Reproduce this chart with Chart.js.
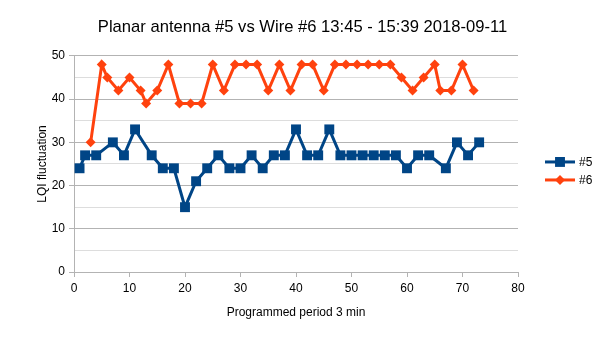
<!DOCTYPE html>
<html>
<head>
<meta charset="utf-8">
<style>
  html, body { margin: 0; padding: 0; background: #ffffff; }
  canvas { display: block; }
</style>
<script src="https://cdn.jsdelivr.net/npm/chart.js@4/dist/chart.umd.min.js"></script>
</head>
<body>
<canvas id="chart" width="605" height="340"></canvas>
<script>
// Chart texts
const chartTitle = 'Planar antenna #5 vs Wire #6 13:45 - 15:39 2018-09-11';
const xAxisTitle = 'Programmed period 3 min';
const yAxisTitle = 'LQI fluctuation';
const seriesNames = ['#5', '#6'];

// Axis ranges
const xRange = [0, 80];
const yRange = [0, 50];

// Planar antenna #5 readings (period index, LQI fluctuation)
const period5 = [1, 2, 4, 7, 9, 11, 14, 16, 18, 20, 22, 24, 26, 28, 30, 32, 34, 36, 38,
                 40, 42, 44, 46, 48, 50, 52, 54, 56, 58, 60, 62, 64, 67, 69, 71, 73];
const lqi5    = [24, 27, 27, 30, 27, 33, 27, 24, 24, 15, 21, 24, 27, 24, 24, 27, 24, 27, 27,
                 33, 27, 27, 33, 27, 27, 27, 27, 27, 27, 24, 27, 27, 24, 30, 27, 30];

// Wire #6 readings (period index, LQI fluctuation)
const period6 = [3, 5, 6, 8, 10, 12, 13, 15, 17, 19, 21, 23, 25, 27, 29, 31, 33, 35, 37,
                 39, 41, 43, 45, 47, 49, 51, 53, 55, 57, 59, 61, 63, 65, 66, 68, 70, 72];
const lqi6    = [30, 48, 45, 42, 45, 42, 39, 42, 48, 39, 39, 39, 48, 42, 48, 48, 48, 42, 48,
                 42, 48, 48, 42, 48, 48, 48, 48, 48, 48, 45, 42, 45, 48, 42, 42, 48, 42];

const BLUE = '#004586';
const ORANGE = '#ff420e';
const GRID_MAJOR = '#b3b3b3';
const GRID_MINOR = '#dddddd';
const FONT = "'Liberation Sans', Arial, sans-serif";

const toPoints = (xs, ys) => xs.map((x, i) => ({ x: x, y: ys[i] }));

// Draw a series marker (square or diamond) at a point
function drawMarker(ctx, style, x, y, r, color) {
  ctx.save();
  ctx.fillStyle = color;
  ctx.beginPath();
  if (style === 'rect') {
    const h = r * Math.SQRT1_2;
    ctx.rect(x - h, y - h, 2 * h, 2 * h);
  } else {
    ctx.moveTo(x, y - r);
    ctx.lineTo(x + r, y);
    ctx.lineTo(x, y + r);
    ctx.lineTo(x - r, y);
    ctx.closePath();
  }
  ctx.fill();
  ctx.restore();
}

// Legend to the right of the plot: line sample with marker, then label
const sideLegend = {
  id: 'sideLegend',
  afterDraw(chart) {
    const { ctx, chartArea } = chart;
    const x0 = chartArea.right + 27;
    const mid = (chartArea.top + chartArea.bottom) / 2;
    chart.data.datasets.forEach((ds, i) => {
      const y = mid - 2 + i * 18;
      ctx.save();
      ctx.strokeStyle = ds.borderColor;
      ctx.lineWidth = 3;
      ctx.beginPath();
      ctx.moveTo(x0, y);
      ctx.lineTo(x0 + 30, y);
      ctx.stroke();
      drawMarker(ctx, ds.pointStyle, x0 + 15, y, ds.pointRadius, ds.borderColor);
      ctx.fillStyle = '#000000';
      ctx.font = '12px ' + FONT;
      ctx.textAlign = 'left';
      ctx.textBaseline = 'middle';
      ctx.fillText(ds.label, x0 + 34, y + 1);
      ctx.restore();
    });
  }
};

Chart.defaults.font.family = FONT;
Chart.defaults.font.size = 12;
Chart.defaults.color = '#000000';

new Chart(document.getElementById('chart'), {
  type: 'line',
  data: {
    datasets: [
      {
        label: seriesNames[0],
        data: toPoints(period5, lqi5),
        borderColor: BLUE,
        backgroundColor: BLUE,
        borderWidth: 3,
        pointStyle: 'rect',
        pointRadius: 7,
        pointBorderWidth: 0,
        tension: 0,
        fill: false
      },
      {
        label: seriesNames[1],
        data: toPoints(period6, lqi6),
        borderColor: ORANGE,
        backgroundColor: ORANGE,
        borderWidth: 3,
        pointStyle: 'rectRot',
        pointRadius: 5,
        pointBorderWidth: 0,
        tension: 0,
        fill: false
      }
    ]
  },
  options: {
    responsive: false,
    animation: false,
    devicePixelRatio: 1,
    layout: { padding: 0 },
    plugins: {
      legend: { display: false },
      tooltip: { enabled: false },
      title: {
        display: true,
        text: chartTitle,
        color: '#000000',
        font: { size: 16.6, weight: 'normal', family: FONT },
        padding: { top: 17, bottom: 19 }
      }
    },
    scales: {
      x: {
        type: 'linear',
        min: xRange[0],
        max: xRange[1],
        afterFit(scale) { scale.height = 68; },
        ticks: { stepSize: 10, padding: 4, maxRotation: 0, color: '#000000' },
        grid: {
          drawOnChartArea: false,
          drawTicks: true,
          tickLength: 5,
          color: GRID_MAJOR,
          tickColor: GRID_MAJOR
        },
        border: { color: GRID_MAJOR, width: 1 },
        title: {
          display: true,
          text: xAxisTitle,
          color: '#000000',
          font: { size: 12, family: FONT },
          padding: { top: 0, bottom: 20 }
        }
      },
      y: {
        type: 'linear',
        min: yRange[0],
        max: yRange[1],
        afterFit(scale) { scale.width = 74; },
        ticks: {
          stepSize: 5,
          autoSkip: false,
          padding: 4,
          color: '#000000',
          callback: (v) => (v % 10 === 0 ? v : '')
        },
        grid: {
          tickLength: 5,
          color: (c) => (c.tick && c.tick.value % 10 === 0 ? GRID_MAJOR : GRID_MINOR),
          tickColor: (c) => (c.tick && c.tick.value % 10 === 0 ? GRID_MAJOR : 'rgba(0,0,0,0)')
        },
        border: { color: GRID_MAJOR, width: 1 },
        title: {
          display: true,
          text: yAxisTitle,
          color: '#000000',
          font: { size: 12, family: FONT },
          padding: { top: 35, bottom: 0 }
        }
      },
      // empty right-hand axis that reserves room for the legend
      legendSpace: {
        type: 'linear',
        position: 'right',
        min: yRange[0],
        max: yRange[1],
        afterFit(scale) { scale.width = 87; },
        ticks: { display: false },
        grid: { display: false, drawOnChartArea: false, drawTicks: false },
        border: { display: false }
      }
    }
  },
  plugins: [sideLegend]
});
</script>
</body>
</html>
